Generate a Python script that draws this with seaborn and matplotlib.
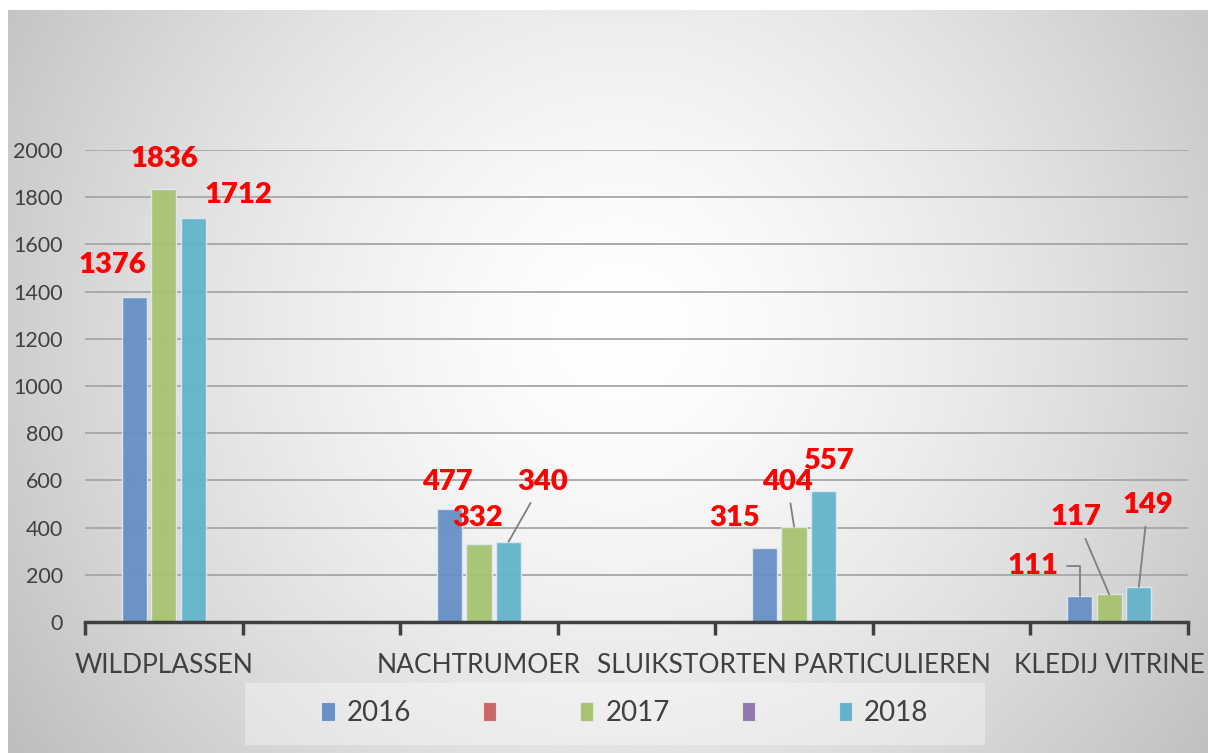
import matplotlib
matplotlib.use('agg')

import numpy as np
import pandas as pd
import seaborn as sns
import matplotlib.pyplot as plt
from matplotlib.patches import Patch, Rectangle

sns.set_theme(style='white')
plt.rcParams['font.family'] = ['Lato', 'DejaVu Sans']

# data
categories = ['WILDPLASSEN', 'NACHTRUMOER', 'SLUIKSTORTEN PARTICULIEREN', 'KLEDIJ VITRINE']
slots = ['WILDPLASSEN', ' ', 'NACHTRUMOER', '  ', 'SLUIKSTORTEN PARTICULIEREN', '   ', 'KLEDIJ VITRINE']
years = ['2016', '2017', '2018']
v2016 = [1376, 477, 315, 111]
v2017 = [1836, 332, 404, 117]
v2018 = [1712, 340, 557, 149]
legend_labels = ['2016', '', '2017', '', '2018']

colors = {'2016': '#6690C6', '2017': '#A6C36F', '2018': '#63B4CB'}
legend_colors = ['#6690C6', '#C96866', '#A6C36F', '#9179AF', '#63B4CB']

df = pd.DataFrame({
    'category': categories * 3,
    'year': ['2016'] * 4 + ['2017'] * 4 + ['2018'] * 4,
    'value': v2016 + v2017 + v2018,
})

W, H = 1208, 753
fig = plt.figure(figsize=(W / 100, H / 100), dpi=100)

# radial grey background like the office chart
bg = fig.add_axes([0, 0, 1, 1], zorder=-10)
yy, xx = np.mgrid[0:H, 0:W]
d = np.sqrt(((xx - 620) / 700.0) ** 2 + ((yy - 330) / 700.0) ** 2)
shade = np.clip(1 - (60 / 255.0) * d ** 1.5, 0, 1)
shade[(xx < 8) | (yy < 10)] = 1
bg.imshow(np.dstack([shade] * 3), aspect='auto', extent=(0, W, H, 0))
bg.axis('off')

fig.patches.append(Rectangle((245 / W, 1 - 745 / H), 740 / W, 62 / H, transform=fig.transFigure,
                             facecolor='white', alpha=0.35, edgecolor='none', zorder=-5))

ax = fig.add_axes([85 / W, 1 - 622 / H, 1103 / W, 472 / H])
ax.set_facecolor('none')

sns.barplot(data=df, x='category', y='value', hue='year', order=slots, hue_order=years,
            palette=colors, saturation=1, width=0.564, gap=0.15, legend=False,
            edgecolor='#dfe8f0', linewidth=1, alpha=0.95, ax=ax)

ax.set_xlim(-0.5, 6.5)
ax.set_ylim(0, 2000)
ax.set_xlabel('')
ax.set_ylabel('')
ax.set_yticks(range(0, 2001, 200))
ax.yaxis.grid(True, color='#a6a6a6', lw=1.3)
ax.set_axisbelow(True)
for s in ['left', 'top', 'right']:
    ax.spines[s].set_visible(False)
ax.spines['bottom'].set_color('#404040')
ax.spines['bottom'].set_linewidth(2.5)
ax.set_xticks(range(len(slots)))
ax.set_xticklabels(slots)
ax.set_xticks(np.arange(-0.5, 7, 1), minor=True)
ax.tick_params(axis='x', which='major', bottom=True, length=0, pad=22, labelsize=19, labelcolor='#404040')
ax.tick_params(axis='x', which='minor', bottom=True, length=9, width=2.5, color='#404040', direction='out')
ax.tick_params(axis='y', length=0, pad=16, labelsize=15.5, labelcolor='#404040')

# label offsets in pixels from the bar top: (dx, dy, leader style)
label_style = {
    (0, 0): (-22, 32, None), (0, 1): (1, 30, None), (0, 2): (45, 23, None),
    (2, 0): (-2, 27, None), (2, 1): (-1, 26, None), (2, 2): (34, 60, 'line'),
    (4, 0): (-30, 30, None), (4, 1): (-7, 45, 'line'), (4, 2): (5, 30, None),
    (6, 0): (-47, 30, 'elbow'), (6, 1): (-33, 77, 'line'), (6, 2): (9, 82, 'line'),
}

for hi, cont in enumerate(ax.containers):
    for bar in cont:
        h = bar.get_height()
        if not np.isfinite(h) or h <= 0:
            continue
        cx = bar.get_x() + bar.get_width() / 2
        ci = int(round(cx))
        dx, dy, leader = label_style[(ci, hi)]
        kw = {}
        if leader == 'line':
            kw['arrowprops'] = dict(arrowstyle='-', color='#7f7f7f', lw=1.3, shrinkA=4, shrinkB=0)
        elif leader == 'elbow':
            kw['arrowprops'] = dict(arrowstyle='-', color='#7f7f7f', lw=1.3, shrinkA=4, shrinkB=0,
                                    connectionstyle='angle,angleA=0,angleB=90,rad=0')
        ax.annotate(f'{int(h)}', xy=(cx, h), xytext=(dx, dy), textcoords='offset pixels',
                    ha='center', va='center', fontsize=21, fontweight='heavy', color='#FF0000',
                    annotation_clip=False, **kw)

handles = [Patch(facecolor=c, edgecolor='#e6e6e6', lw=0.8) for c in legend_colors]
leg = fig.legend(handles, legend_labels, loc='center', bbox_to_anchor=(625 / W, 1 - 713 / H), ncol=5,
                 frameon=False, fontsize=20, handlelength=0.47, handleheight=0.7,
                 handletextpad=0.43, columnspacing=2.6)
for t in leg.get_texts():
    t.set_color('#404040')

fig.savefig('out.png', dpi=100)
